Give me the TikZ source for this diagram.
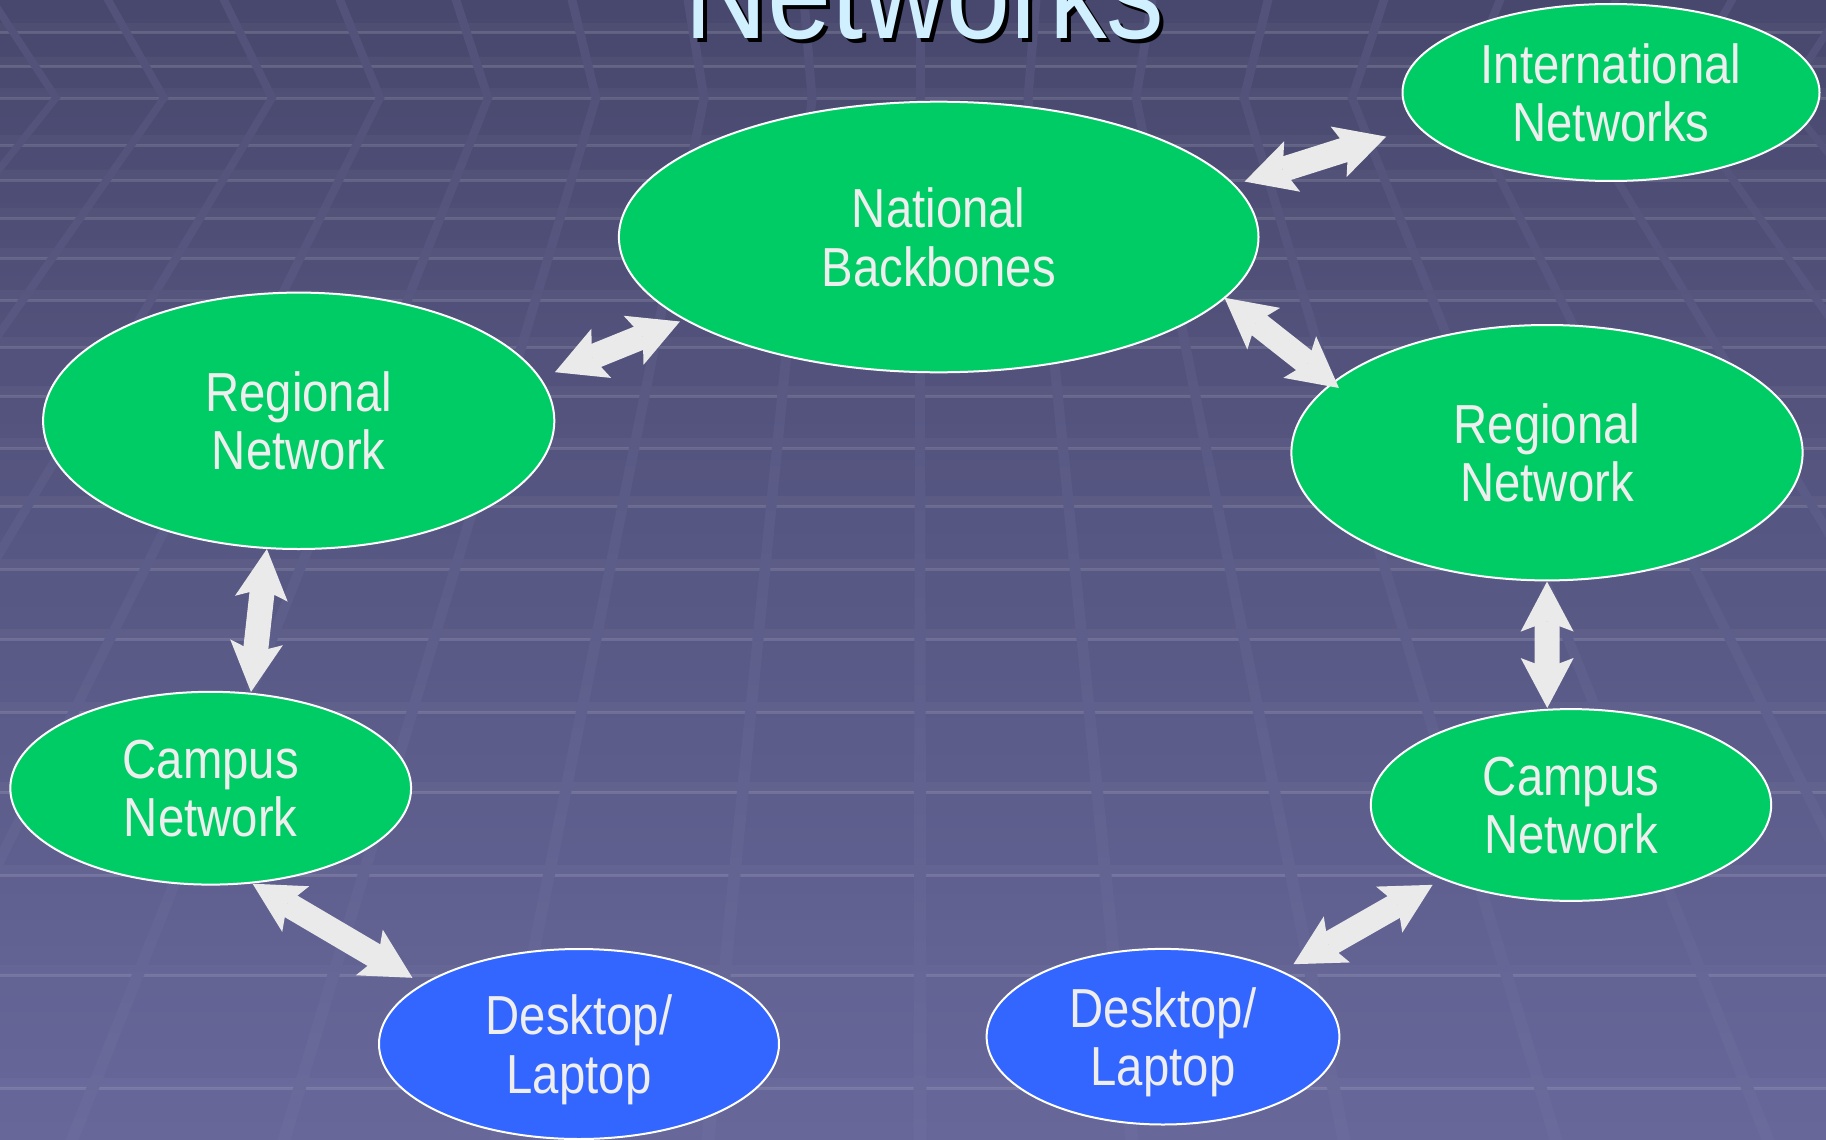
\documentclass[tikz,border=0pt]{standalone}
\usepackage{fontspec}
\setmainfont{Liberation Sans}[FakeStretch=0.86]
\usetikzlibrary{arrows.meta,shapes.geometric}
\definecolor{bgtop}{HTML}{48486E}
\definecolor{bgbot}{HTML}{67679A}
\definecolor{nodegreen}{HTML}{00CC66}
\definecolor{nodeblue}{HTML}{3366FF}
\definecolor{txtcol}{HTML}{EEEEEE}
\definecolor{arrowgray}{HTML}{EAEAEA}
\definecolor{titlecol}{HTML}{D0F0FF}
\definecolor{vlinetopcol}{HTML}{52527A}
\definecolor{vtop}{HTML}{52527A}
\definecolor{vmid}{HTML}{56567E}
\definecolor{vbot}{HTML}{6A6A9C}
\tikzset{
  netnode/.style={ellipse, draw=white, line width=2pt, inner sep=0pt, outer sep=0pt,
    text=txtcol, align=center, font=\fontsize{55}{58.2}\selectfont, text depth=0pt},
  gnode/.style={netnode, fill=nodegreen},
  bnode/.style={netnode, fill=nodeblue},
  link/.style={draw=arrowgray, line width=25pt,
    {Stealth[length=50pt,width=53pt,inset=10pt,line width=0pt]}-{Stealth[length=50pt,width=53pt,inset=10pt,line width=0pt]}},
  hglow/.style={fill=white, fill opacity=0.03},
  hline/.style={draw=white, draw opacity=0.12, line width=3pt},
  titlefont/.style={font=\fontsize{134}{134}\selectfont, inner sep=0pt, anchor=base}
}
\begin{document}
\begin{tikzpicture}[x=1pt,y=-1pt]
\useasboundingbox (0,0) rectangle (1826,1140);
\clip (0,0) rectangle (1826,1140);
% background
\shade[top color=bgtop, bottom color=bgbot] (0,0) rectangle (1826,1140);
% horizontal grid lines
\foreach \yy in {33,67,98,145,180,218,258,300,347,396,448,506,569,639,712,792,875,975,1088}{
  \fill[hglow] (0,\yy-10) rectangle (1826,\yy);
  \draw[hline] (0,\yy) -- (1826,\yy);
}
% perspective grid lines
\foreach \k in {-9,...,9}{
  \pgfmathsetmacro\xa{920+116*\k}
  \pgfmathsetmacro\xb{920+108*\k}
  \pgfmathsetmacro\xc{920+212*\k}
  \fill[vlinetopcol] (\xa-4.5,0) -- (\xa+4.5,0) -- (\xb+4.5,98) -- (\xb-4.5,98) -- cycle;
  \shade[top color=vtop, middle color=vmid, bottom color=vbot]
    (\xb-4.5,98) -- (\xb+4.5,98) -- (\xc+6.5,1140) -- (\xc-6.5,1140) -- cycle;
}
% title
\node[titlefont, text=black] (titleshadow) at (928.5,43) {Networks};
\node[titlefont, text=titlecol] (title) at (924.5,39) {Networks};
% nodes
\node[gnode, minimum width=639.6pt, minimum height=270.6pt] (nat) at (938.7,237) {National\\Backbones};
\node[gnode, minimum width=417pt, minimum height=177pt] (intl) at (1611,92.5) {International\\Networks};
\node[gnode, minimum width=511.2pt, minimum height=256.4pt] (regL) at (298.7,420.8) {Regional\\Network};
\node[gnode, minimum width=511.2pt, minimum height=255.4pt] (regR) at (1547,452.7) {Regional\\Network};
\node[gnode, minimum width=400.8pt, minimum height=192.8pt] (campL) at (210.7,788.2) {Campus\\Network};
\node[gnode, minimum width=400.4pt, minimum height=191.8pt] (campR) at (1571,805) {Campus\\Network};
\node[bnode, minimum width=400pt, minimum height=190pt] (deskL) at (579,1044) {Desktop/\\Laptop};
\node[bnode, minimum width=352.8pt, minimum height=175.6pt] (deskR) at (1163,1036.7) {Desktop/\\Laptop};
% connectors
\draw[link, shorten <=5.6pt, shorten >=16.3pt] (nat.198.5) -- (regL.10.1);
\draw[link, shorten <=11.2pt, shorten >=33.8pt] (nat.10.2) -- (intl.190.1);
\draw[link, shorten >=-7.9pt] (nat.348.9) -- (regR.162.9);
\draw[link, shorten <=1pt, shorten >=1.8pt] (regL.256.1) -- (campL.67.3);
\draw[link, shorten <=1.2pt, shorten >=1.8pt] (regR.270) -- (campR.104);
\draw[link, shorten <=2.1pt, shorten >=12.8pt] (campL.293.5) -- (deskL.159.3);
\draw[link, shorten <=12.2pt, shorten >=14.5pt] (campR.210.6) -- (deskR.29.25);
\end{tikzpicture}
\end{document}
